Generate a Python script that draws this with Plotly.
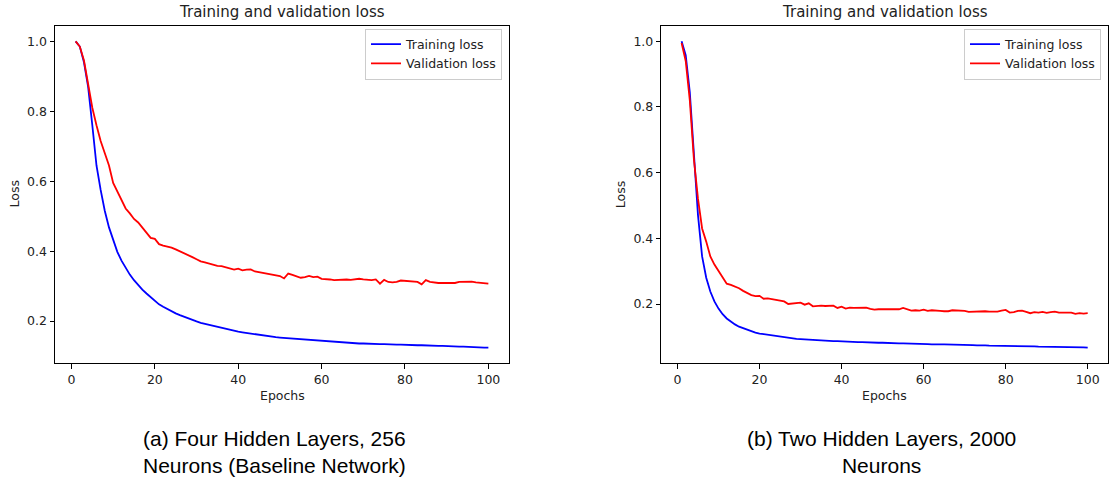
import plotly.graph_objects as go

# ---------------- data ----------------
epochs = list(range(1, 101))

train_a = [1.0, 0.985, 0.94, 0.87, 0.76, 0.645, 0.575, 0.515, 0.468, 0.43,
           0.398, 0.373, 0.352, 0.333, 0.317, 0.302, 0.29, 0.279, 0.268, 0.257,
           0.248, 0.241, 0.234, 0.228, 0.222, 0.217, 0.212, 0.207, 0.203, 0.199,
           0.195, 0.192, 0.189, 0.186, 0.183, 0.18, 0.177, 0.174, 0.172, 0.17,
           0.168, 0.166, 0.164, 0.162, 0.16, 0.159, 0.157, 0.156, 0.154, 0.153,
           0.152, 0.151, 0.15, 0.149, 0.148, 0.147, 0.146, 0.145, 0.144, 0.143,
           0.142, 0.141, 0.14, 0.14, 0.139, 0.138, 0.138, 0.137, 0.136, 0.136,
           0.135, 0.135, 0.134, 0.134, 0.134, 0.133, 0.133, 0.133, 0.133, 0.132,
           0.132, 0.131, 0.131, 0.131, 0.13, 0.13, 0.129, 0.129, 0.129, 0.128,
           0.128, 0.127, 0.127, 0.127, 0.126, 0.126, 0.125, 0.125, 0.124, 0.124]

val_a = [1.0, 0.985, 0.945, 0.875, 0.81, 0.76, 0.715, 0.68, 0.645, 0.595,
         0.57, 0.545, 0.522, 0.508, 0.492, 0.482, 0.468, 0.452, 0.438, 0.435,
         0.42, 0.416, 0.414, 0.41, 0.405, 0.4, 0.394, 0.388, 0.383, 0.377,
         0.371, 0.368, 0.364, 0.36, 0.358, 0.357, 0.353, 0.35, 0.347, 0.35,
         0.345, 0.347, 0.348, 0.342, 0.34, 0.338, 0.335, 0.333, 0.331, 0.329,
         0.322, 0.336, 0.332, 0.327, 0.324, 0.326, 0.329, 0.326, 0.327, 0.321,
         0.321, 0.319, 0.317, 0.318, 0.318, 0.319, 0.318, 0.32, 0.321, 0.319,
         0.318, 0.317, 0.319, 0.307, 0.318, 0.312, 0.311, 0.312, 0.316, 0.315,
         0.315, 0.314, 0.312, 0.305, 0.317, 0.312, 0.31, 0.309, 0.309, 0.309,
         0.311, 0.309, 0.312, 0.313, 0.314, 0.313, 0.311, 0.31, 0.309, 0.307]

train_b = [1.0, 0.958, 0.845, 0.66, 0.47, 0.345, 0.28, 0.238, 0.208, 0.186,
           0.169, 0.156, 0.146, 0.138, 0.131, 0.126, 0.121, 0.117, 0.113, 0.11,
           0.108, 0.106, 0.104, 0.102, 0.1, 0.098, 0.097, 0.095, 0.094, 0.093,
           0.092, 0.091, 0.091, 0.09, 0.089, 0.089, 0.088, 0.087, 0.087, 0.086,
           0.086, 0.085, 0.085, 0.084, 0.084, 0.083, 0.083, 0.083, 0.082, 0.082,
           0.081, 0.081, 0.081, 0.08, 0.08, 0.08, 0.079, 0.079, 0.079, 0.078,
           0.078, 0.077, 0.078, 0.077, 0.077, 0.077, 0.076, 0.076, 0.076, 0.075,
           0.075, 0.075, 0.074, 0.075, 0.074, 0.073, 0.073, 0.073, 0.072, 0.072,
           0.072, 0.072, 0.071, 0.072, 0.071, 0.071, 0.071, 0.07, 0.07, 0.07,
           0.07, 0.069, 0.069, 0.069, 0.069, 0.068, 0.068, 0.068, 0.068, 0.067]

val_b = [0.995, 0.94, 0.82, 0.64, 0.52, 0.43, 0.39, 0.345, 0.32, 0.3,
         0.28, 0.262, 0.258, 0.254, 0.248, 0.24, 0.233, 0.227, 0.224, 0.225,
         0.216, 0.217, 0.215, 0.212, 0.21, 0.208, 0.2, 0.201, 0.202, 0.204,
         0.198, 0.202, 0.193, 0.195, 0.195, 0.194, 0.195, 0.195, 0.188, 0.192,
         0.186, 0.189, 0.188, 0.188, 0.189, 0.189, 0.185, 0.183, 0.184, 0.184,
         0.184, 0.183, 0.182, 0.184, 0.188, 0.183, 0.18, 0.181, 0.18, 0.183,
         0.179, 0.181, 0.181, 0.179, 0.178, 0.178, 0.181, 0.18, 0.181, 0.179,
         0.176, 0.177, 0.178, 0.177, 0.178, 0.177, 0.176, 0.177, 0.18, 0.182,
         0.174, 0.175, 0.179, 0.18, 0.176, 0.172, 0.175, 0.174, 0.176, 0.173,
         0.175, 0.177, 0.174, 0.174, 0.173, 0.174, 0.17, 0.172, 0.171, 0.172]

x_ticks = [0, 20, 40, 60, 80, 100]
y_ticks = [0.2, 0.4, 0.6, 0.8, 1.0]
title_text = "Training and validation loss"
captions = ["(a) Four Hidden Layers, 256<br>Neurons (Baseline Network)",
            "(b) Two Hidden Layers, 2000<br>Neurons"]

# ---------------- figure ----------------
W, H = 1110, 479
TICK_FONT = dict(family="DejaVu Sans", size=12.5, color="#222222")


def px(xp):
    return xp / W


def py(yp):
    return 1 - yp / H


def padded(vals):
    lo, hi = min(vals), max(vals)
    m = (hi - lo) * 0.05
    return [lo - m, hi + m]


fig = go.Figure()
LW = 1.8
fig.add_trace(go.Scatter(x=epochs, y=train_a, mode="lines", name="Training loss",
                         line=dict(color="#0000ff", width=LW), xaxis="x", yaxis="y",
                         legend="legend"))
fig.add_trace(go.Scatter(x=epochs, y=val_a, mode="lines", name="Validation loss",
                         line=dict(color="#ff0000", width=LW), xaxis="x", yaxis="y",
                         legend="legend"))
fig.add_trace(go.Scatter(x=epochs, y=train_b, mode="lines", name="Training loss",
                         line=dict(color="#0000ff", width=LW), xaxis="x2", yaxis="y2",
                         legend="legend2"))
fig.add_trace(go.Scatter(x=epochs, y=val_b, mode="lines", name="Validation loss",
                         line=dict(color="#ff0000", width=LW), xaxis="x2", yaxis="y2",
                         legend="legend2"))

axis_common = dict(showline=True, mirror=True, linecolor="black", linewidth=1,
                   ticks="outside", ticklen=4.5, tickwidth=1, tickcolor="black",
                   showgrid=False, zeroline=False, tickfont=TICK_FONT)

xr = padded(epochs)
left_dom = [px(55), px(509)]
right_dom = [px(661.3), px(1108)]
y_dom = [py(363), py(26)]

LEG_TOP = 28.5
fig.update_layout(
    width=W, height=H,
    margin=dict(l=0, r=0, t=0, b=0),
    paper_bgcolor="white", plot_bgcolor="white",
    xaxis=dict(domain=left_dom, range=xr, tickvals=x_ticks, anchor="y", **axis_common),
    yaxis=dict(domain=y_dom, range=padded(train_a + val_a), tickvals=y_ticks,
               tickformat=".1f", anchor="x", **axis_common),
    xaxis2=dict(domain=right_dom, range=xr, tickvals=x_ticks, anchor="y2", **axis_common),
    yaxis2=dict(domain=y_dom, range=padded(train_b + val_b), tickvals=y_ticks,
                tickformat=".1f", anchor="x2", **axis_common),
    legend=dict(x=px(502), y=py(LEG_TOP), xanchor="right", yanchor="top",
                bgcolor="rgba(255,255,255,0.8)", bordercolor="#cccccc", borderwidth=1,
                font=dict(family="DejaVu Sans", size=12.5, color="#222222")),
    legend2=dict(x=px(1101), y=py(LEG_TOP), xanchor="right", yanchor="top",
                 bgcolor="rgba(255,255,255,0.8)", bordercolor="#cccccc", borderwidth=1,
                 font=dict(family="DejaVu Sans", size=12.5, color="#222222")),
    showlegend=True,
)

ann = []
for cx in [(55 + 509) / 2, (661.3 + 1108) / 2]:
    ann.append(dict(text=title_text, x=px(cx), y=py(12), xref="paper", yref="paper",
                    xanchor="center", yanchor="middle", showarrow=False,
                    font=dict(family="DejaVu Sans", size=15, color="#222222")))
    ann.append(dict(text="Epochs", x=px(cx), y=py(395.5), xref="paper", yref="paper",
                    xanchor="center", yanchor="middle", showarrow=False,
                    font=dict(family="DejaVu Sans", size=12.5, color="#222222")))
for lx in [14, 620.7]:
    ann.append(dict(text="Loss", x=px(lx), y=py(194.5), xref="paper", yref="paper",
                    xanchor="center", yanchor="middle", showarrow=False, textangle=-90,
                    font=dict(family="DejaVu Sans", size=12.5, color="#222222")))
for cx, cap in zip([274, 881], captions):
    ann.append(dict(text=cap, x=px(cx), y=py(451.5), xref="paper", yref="paper",
                    xanchor="center", yanchor="middle", showarrow=False, align="center",
                    font=dict(family="Liberation Sans", size=21, color="#000000")))
fig.update_layout(annotations=ann)

fig.write_html("out.html")
